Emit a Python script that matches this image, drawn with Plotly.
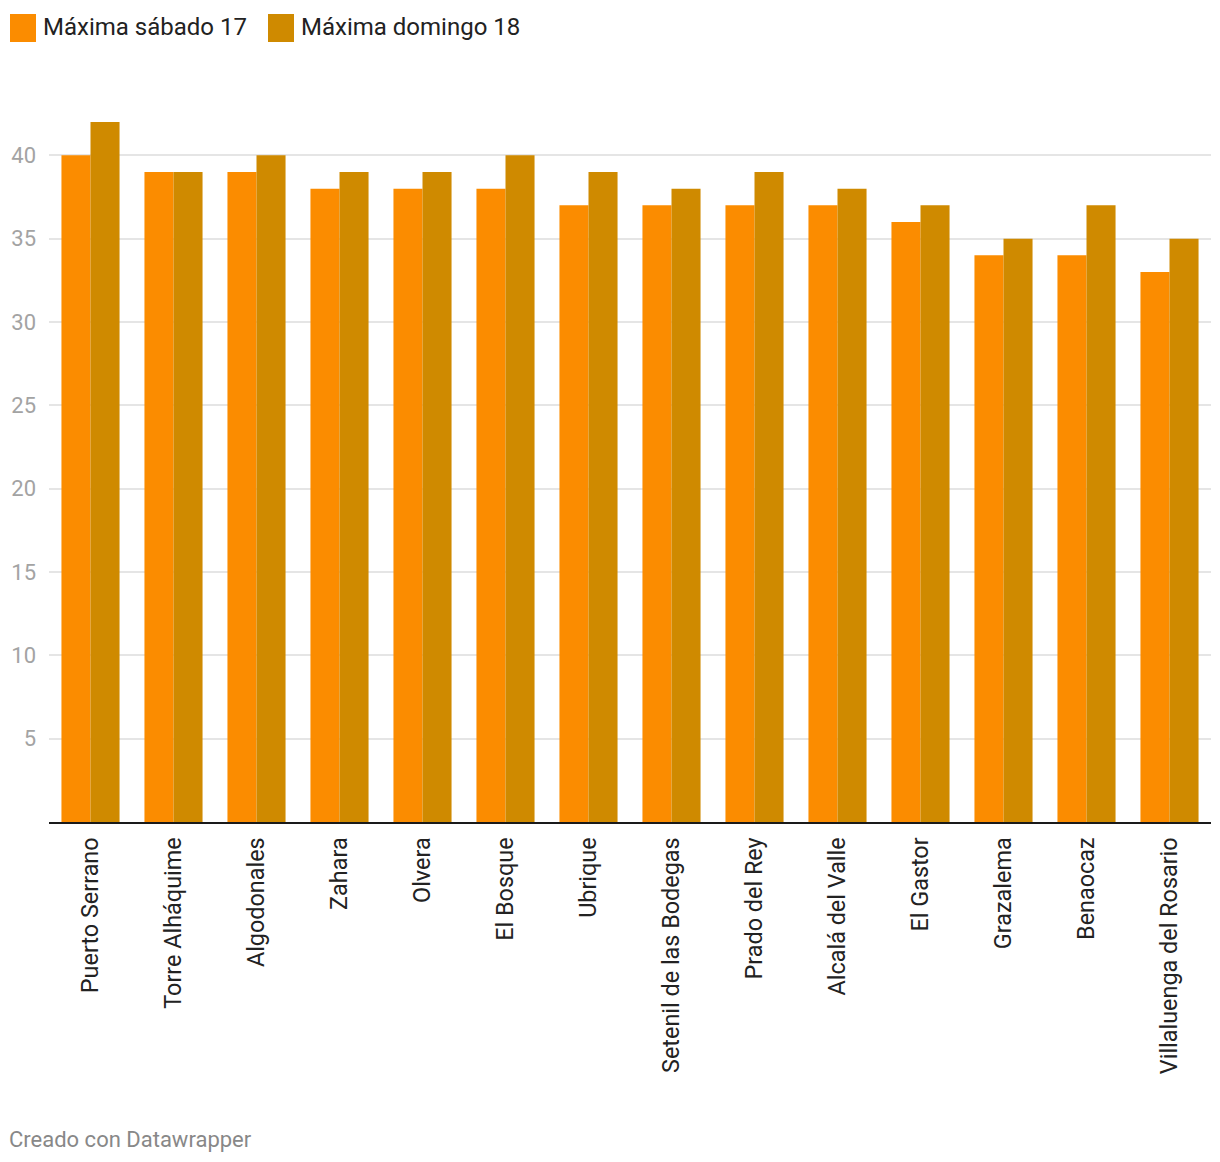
import plotly.graph_objects as go

categories = ["Puerto Serrano", "Torre Alháquime", "Algodonales", "Zahara", "Olvera",
              "El Bosque", "Ubrique", "Setenil de las Bodegas", "Prado del Rey",
              "Alcalá del Valle", "El Gastor", "Grazalema", "Benaocaz",
              "Villaluenga del Rosario"]
sabado = [40, 39, 39, 38, 38, 38, 37, 37, 37, 37, 36, 34, 34, 33]
domingo = [42, 39, 40, 39, 39, 40, 39, 38, 39, 38, 37, 35, 37, 35]
series_names = ["Máxima sábado 17", "Máxima domingo 18"]
colors = ["#FB8C00", "#CF8A00"]
y_ticks = [5, 10, 15, 20, 25, 30, 35, 40]

# page body has an 8px offset; work in figure coordinates
OFF = 8
W, H = 1204, 1146
L, R, T, B = 41, 1, 114, 332
PW = W - L - R
PH = H - T - B

fig = go.Figure()
for name, vals, c in zip(series_names, [sabado, domingo], colors):
    fig.add_trace(go.Bar(x=categories, y=vals, name=name, marker_color=c,
                         marker_line_width=0, showlegend=False))

fig.update_layout(
    width=W, height=H,
    margin=dict(l=L, r=R, t=T, b=B),
    barmode="group", bargap=0.3, bargroupgap=0,
    plot_bgcolor="white", paper_bgcolor="white",
    font=dict(family="Roboto", size=20, color="#222"),
)
fig.update_yaxes(range=[0, 42], tickvals=y_ticks, showgrid=True, gridcolor="#e5e5e5",
                 gridwidth=1.5, zeroline=False, showline=False,
                 tickfont=dict(size=22, color="#a3a3a3"), ticks="", ticklabelstandoff=12)
fig.update_xaxes(tickangle=-90, tickfont=dict(size=23.4, color="#222"), showline=True,
                 linecolor="#1a1a1a", linewidth=2, ticks="", showgrid=False,
                 ticklabelstandoff=4)


def px(x):
    return (x - OFF - L) / PW


def py(y):
    return 1 - (y - OFF - T) / PH


# custom legend
x0 = 10
for name, c in zip(series_names, colors):
    fig.add_shape(type="rect", xref="paper", yref="paper", x0=px(x0), x1=px(x0 + 26),
                  y0=py(42), y1=py(14), fillcolor=c, line_width=0)
    fig.add_annotation(xref="paper", yref="paper", x=px(x0 + 31), y=py(27), text=name,
                       showarrow=False, xanchor="left", yanchor="middle",
                       font=dict(size=24, color="#222"))
    x0 += 258

fig.add_annotation(xref="paper", yref="paper", x=px(7), y=py(1139),
                   text="Creado con Datawrapper", showarrow=False, xanchor="left",
                   yanchor="middle", font=dict(size=22, color="#888"))

fig.write_html("out.html")
